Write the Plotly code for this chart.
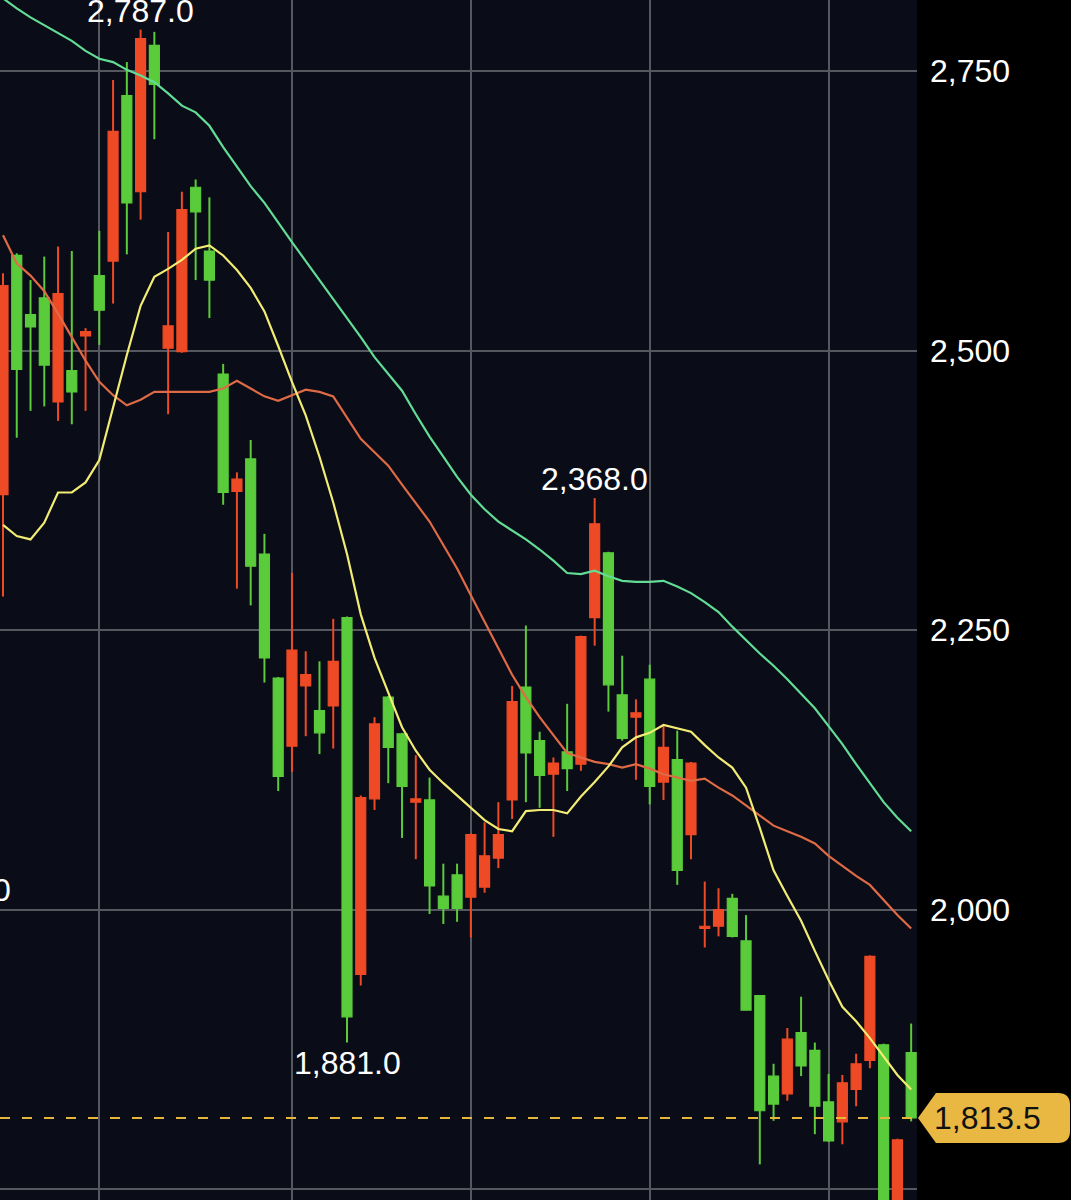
import plotly.graph_objects as go

# ---------------- data ----------------
idx = list(range(67))

opens = [2371, 2585, 2532, 2547, 2454, 2482, 2513, 2567, 2580, 2728,
         2642, 2773, 2502, 2499, 2646, 2589, 2479, 2374, 2403, 2318,
         2207, 2146, 2200, 2178, 2182, 2261, 1942, 2099, 2190, 2157,
         2096, 2098, 2012, 2031, 2011, 2020, 2046, 2098, 2199, 2151,
         2121, 2141, 2130, 2261, 2319, 2192, 2172, 2206, 2114, 2134,
         2067, 1983, 1985, 2010, 1972, 1923, 1851, 1835, 1890, 1874,
         1828, 1810, 1839, 1865, 1879, 1722, 1872]
closes = [2558, 2483, 2521, 2487, 2551, 2463, 2517, 2536, 2696, 2632,
          2779, 2738, 2522, 2626, 2624, 2563, 2373, 2385, 2307, 2225,
          2119, 2232, 2210, 2158, 2222, 1904, 2100, 2166, 2145, 2110,
          2099, 2021, 2001, 2001, 2067, 2048, 2067, 2186, 2140, 2120,
          2131, 2126, 2244, 2345, 2201, 2153, 2176, 2110, 2145, 2035,
          2131, 1985, 2000, 1976, 1910, 1820, 1826, 1884, 1860, 1824,
          1793, 1845, 1862, 1958, 1715, 1794, 1813.5]
highs = [2569, 2587, 2563, 2584, 2593, 2589, 2520, 2607, 2742, 2758,
         2787, 2785, 2606, 2642, 2653, 2637, 2488, 2391, 2420, 2336,
         2208, 2301, 2231, 2222, 2260, 2262, 2102, 2172, 2191, 2158,
         2138, 2118, 2041, 2041, 2068, 2078, 2096, 2200, 2254, 2159,
         2136, 2184, 2245, 2368, 2320, 2227, 2188, 2219, 2164, 2160,
         2132, 2025, 2019, 2014, 1995, 1923, 1862, 1894, 1922, 1881,
         1853, 1852, 1871, 1959, 1880, 1795, 1898]
lows = [2280, 2422, 2446, 2450, 2437, 2434, 2446, 2505, 2542, 2586,
        2617, 2689, 2443, 2498, 2563, 2529, 2362, 2287, 2272, 2203,
        2106, 2123, 2155, 2139, 2144, 1881, 1932, 2089, 2113, 2064,
        2045, 1996, 1987, 1989, 1975, 2015, 2037, 2081, 2096, 2091,
        2065, 2106, 2124, 2236, 2177, 2151, 2116, 2094, 2098, 2022,
        2045, 1966, 1976, 1975, 1910, 1772, 1811, 1829, 1851, 1799,
        1792, 1790, 1824, 1858, 1705, 1712, 1810.5]

ma_short = [2344, 2334, 2331, 2346, 2373, 2373, 2382, 2402, 2449, 2496,
            2540, 2566, 2573, 2581, 2591, 2594, 2585, 2572, 2556, 2535,
            2504, 2472, 2442, 2405, 2364, 2318, 2264, 2225, 2194, 2163,
            2142, 2125, 2113, 2102, 2091, 2080, 2072, 2070, 2088, 2089,
            2089, 2086, 2101, 2114, 2128, 2145, 2154, 2158, 2165, 2162,
            2159, 2147, 2136, 2127, 2109, 2073, 2035, 2012, 1990, 1963,
            1937, 1913, 1900, 1885, 1868, 1852, 1839]
ma_mid = [2603, 2578, 2567, 2553, 2533, 2512, 2491, 2472, 2460, 2451,
          2456, 2463, 2463, 2463, 2463, 2463, 2466, 2473, 2466, 2459,
          2455, 2460, 2465, 2463, 2459, 2440, 2421, 2409, 2397, 2380,
          2363, 2347, 2326, 2305, 2281, 2257, 2233, 2210, 2190, 2172,
          2156, 2140, 2136, 2132, 2130, 2127, 2130, 2126, 2121, 2118,
          2115, 2117, 2109, 2102, 2093, 2084, 2075, 2070, 2065, 2059,
          2048, 2039, 2030, 2022, 2008, 1995, 1983]
ma_long = [2815, 2806, 2798, 2791, 2784, 2777, 2768, 2761, 2758, 2751,
           2746, 2740, 2730, 2719, 2713, 2701, 2682, 2664, 2647, 2632,
           2614, 2597, 2580, 2563, 2546, 2530, 2512, 2494, 2479, 2464,
           2443, 2423, 2405, 2387, 2371, 2358, 2347, 2339, 2331, 2322,
           2312, 2301, 2300, 2303, 2298, 2294, 2293, 2293, 2294, 2289,
           2283, 2275, 2266, 2253, 2241, 2229, 2218, 2206, 2193, 2180,
           2164, 2148, 2130, 2113, 2096, 2082, 2070]

price_ticks = [1750, 2000, 2250, 2500, 2750]
price_tick_text = ["1,750", "2,000", "2,250", "2,500", "2,750"]
vgrid_idx = [7, 21, 34, 47, 60]

# annotated extremes: (candle index, value, text, above?)
extremes = [(10, 2787.0, "2,787.0", True),
            (43, 2368.0, "2,368.0", True),
            (25, 1881.0, "1,881.0", False)]
last_price = 1813.5
last_text = "1,813.5"

# ---------------- styling ----------------
W, H = 1071, 1200
PLOT_W = 917
STEP = 13.76          # pixels per candle
X0 = 3.0              # pixel centre of the first candle
UP = "#ee4a25"        # rising candles are red
DOWN = "#5acb3a"      # falling candles are green
FONT = "Liberation Sans, Arial, Helvetica, sans-serif"

colors = [UP if c >= o else DOWN for o, c in zip(opens, closes)]
body_base = [min(o, c) for o, c in zip(opens, closes)]
body_len = [abs(c - o) for o, c in zip(opens, closes)]
wick_len = [h - l for h, l in zip(highs, lows)]

fig = go.Figure()

# wicks
fig.add_trace(go.Bar(x=idx, base=lows, y=wick_len, width=2.0 / STEP,
                     marker=dict(color=colors, line=dict(width=0)),
                     hoverinfo="skip", showlegend=False))
# bodies
fig.add_trace(go.Bar(x=idx, base=body_base, y=body_len, width=10.0 / STEP,
                     marker=dict(color=colors, line=dict(color=colors, width=1.2)),
                     hoverinfo="skip", showlegend=False))

for vals, col in [(ma_long, "#63dc96"), (ma_mid, "#de6a46"), (ma_short, "#f2ec74")]:
    fig.add_trace(go.Scatter(x=idx, y=vals, mode="lines",
                             line=dict(color=col, width=2.2),
                             hoverinfo="skip", showlegend=False))

# current price dashed line
fig.add_shape(type="line", xref="paper", yref="y", x0=0, x1=PLOT_W / W,
              y0=last_price, y1=last_price,
              line=dict(color="#e6b53a", width=2, dash="10px,12px"), layer="above")

# price tag (arrow pointing left) on the right axis
y_per_px = (2750 - 1750) / (1189 - 71)
half = 25 * y_per_px
r = 12 * y_per_px
px = lambda p: p / W
tip, body_l, right_e = 918, 936, 1070
path = (f"M {px(tip)},{last_price} "
        f"L {px(body_l)},{last_price + half} "
        f"L {px(right_e - 12)},{last_price + half} "
        f"Q {px(right_e)},{last_price + half} {px(right_e)},{last_price + half - r} "
        f"L {px(right_e)},{last_price - half + r} "
        f"Q {px(right_e)},{last_price - half} {px(right_e - 12)},{last_price - half} "
        f"L {px(body_l)},{last_price - half} Z")
fig.add_shape(type="path", xref="paper", yref="y", path=path,
              fillcolor="#e8b843", line=dict(width=0), layer="above")
fig.add_annotation(xref="paper", yref="y", x=px(932), y=last_price,
                   xanchor="left", yanchor="middle", text=last_text,
                   showarrow=False, font=dict(family=FONT, size=32, color="#111111"))

for i, v, t, above in extremes:
    fig.add_annotation(x=i, y=v, text=t, showarrow=False,
                       xanchor="center", yanchor="middle",
                       yshift=19 if above else -20,
                       font=dict(family=FONT, size=32, color="#ffffff"))

# clipped label at the left edge
fig.add_annotation(xref="paper", yref="paper", x=px(13), y=1 - 890 / H,
                   xanchor="right", yanchor="middle", text="0", showarrow=False,
                   font=dict(family=FONT, size=32, color="#ffffff"))

fig.update_layout(
    width=W, height=H,
    margin=dict(l=0, r=0, t=0, b=0),
    paper_bgcolor="#000000",
    plot_bgcolor="#0a0c17",
    barmode="overlay",
    xaxis=dict(domain=[0, PLOT_W / W], range=[-X0 / STEP, (PLOT_W - X0) / STEP],
               showticklabels=False,
               tickvals=vgrid_idx, ticks="", showgrid=True,
               gridcolor="#55585f", gridwidth=1.5, zeroline=False, showline=False),
    yaxis=dict(side="right", range=[1750 - 11 * y_per_px, 2750 + 71 * y_per_px],
               tickvals=price_ticks, ticktext=price_tick_text,
               tickfont=dict(family=FONT, size=32, color="#ffffff"),
               ticks="", ticklabelstandoff=12, showgrid=True,
               gridcolor="#55585f", gridwidth=1.5, zeroline=False, showline=False),
    hovermode=False,
)

fig.write_html("out.html")
